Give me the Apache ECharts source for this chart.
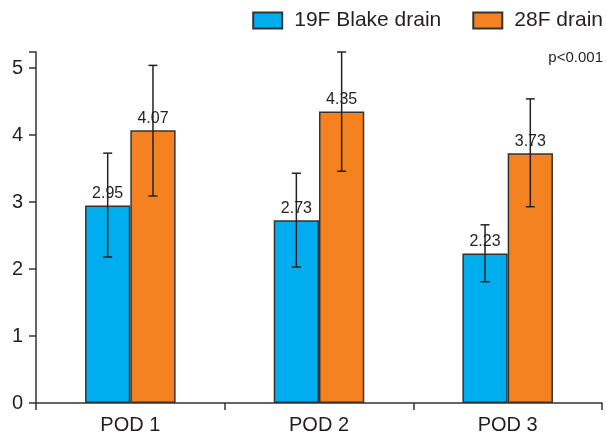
<!DOCTYPE html>
<html>
<head>
<meta charset="utf-8">
<script src="https://cdn.jsdelivr.net/npm/echarts@6/dist/echarts.min.js"></script>
<style>
html,body{margin:0;padding:0;background:#fff;}
#chart{width:606px;height:438px;}
</style>
</head>
<body>
<div id="chart"></div>
<script>
const categories = ['POD 1', 'POD 2', 'POD 3'];
const seriesNames = ['19F Blake drain', '28F drain'];
const blakeValues = [2.95, 2.73, 2.23];
const drainValues = [4.07, 4.35, 3.73];
const blakeLow = [2.18, 2.03, 1.81];
const blakeHigh = [3.73, 3.43, 2.66];
const drainLow = [3.09, 3.46, 2.93];
const drainHigh = [5.04, 5.24, 4.54];
const yTicks = [0, 1, 2, 3, 4, 5];
const pText = 'p<0.001';

const FONT = '"Liberation Sans", Arial, sans-serif';
const TXT = '#231f20';
const BAR_FRAC = 0.24;

function errorSeries(low, high, sign) {
  return {
    type: 'custom',
    z: 10,
    silent: true,
    data: low.map((l, i) => [i, l, high[i]]),
    renderItem: function (params, api) {
      const idx = api.value(0);
      const bandW = api.size([1, 0])[0];
      const off = sign * bandW * BAR_FRAC / 2;
      const lo = api.coord([idx, api.value(1)]);
      const hi = api.coord([idx, api.value(2)]);
      const x = lo[0] + off;
      const cap = 4.5;
      const style = { stroke: '#222', lineWidth: 1.5, fill: null };
      return {
        type: 'group',
        children: [
          { type: 'line', shape: { x1: x, y1: lo[1], x2: x, y2: hi[1] }, style: style },
          { type: 'line', shape: { x1: x - cap, y1: lo[1], x2: x + cap, y2: lo[1] }, style: style },
          { type: 'line', shape: { x1: x - cap, y1: hi[1], x2: x + cap, y2: hi[1] }, style: style }
        ]
      };
    }
  };
}

const chart = echarts.init(document.getElementById('chart'), null, { renderer: 'canvas' });
chart.setOption({
  animation: false,
  backgroundColor: '#fff',
  textStyle: { fontFamily: FONT },
  grid: { left: 36, right: 4, top: 52, bottom: 35, containLabel: false },
  legend: {
    data: seriesNames,
    right: 3,
    top: 10,
    padding: 0,
    itemWidth: 29,
    itemHeight: 16,
    itemGap: 31,
    icon: 'rect',
    textStyle: { fontSize: 21, color: TXT, fontFamily: FONT, padding: [0, 0, 0, 7] }
  },
  graphic: [{
    type: 'text',
    right: 3,
    top: 50,
    style: { text: pText, fontSize: 15, fill: TXT, fontFamily: FONT }
  }],
  xAxis: {
    type: 'category',
    data: categories,
    axisLine: { lineStyle: { color: '#333', width: 1.5 } },
    axisTick: { show: true, length: 7, lineStyle: { color: '#333', width: 1.5 } },
    axisLabel: { fontSize: 20, color: TXT, margin: 12, fontFamily: FONT },
    splitLine: { show: false }
  },
  yAxis: {
    type: 'value',
    min: 0,
    max: 5.24,
    interval: 1,
    axisLine: { show: true, lineStyle: { color: '#333', width: 1.5 } },
    axisTick: { show: true, length: 7, lineStyle: { color: '#333', width: 1.5 } },
    axisLabel: {
      fontSize: 20, color: TXT, margin: 13, fontFamily: FONT,
      formatter: function (v) { return yTicks.indexOf(v) >= 0 ? String(v) : ''; }
    },
    splitLine: { show: false }
  },
  series: [
    {
      name: seriesNames[0],
      type: 'bar',
      data: blakeValues,
      barWidth: (BAR_FRAC * 100) + '%',
      barGap: '0%',
      itemStyle: { color: '#00AEEF', borderColor: '#333', borderWidth: 1.5 },
      label: { show: true, position: 'top', distance: 4, fontSize: 16, color: TXT, fontFamily: FONT,
               formatter: function (p) { return p.value.toFixed(2); } }
    },
    {
      name: seriesNames[1],
      type: 'bar',
      data: drainValues,
      barWidth: (BAR_FRAC * 100) + '%',
      barGap: '0%',
      itemStyle: { color: '#F58220', borderColor: '#333', borderWidth: 1.5 },
      label: { show: true, position: 'top', distance: 4, fontSize: 16, color: TXT, fontFamily: FONT,
               formatter: function (p) { return p.value.toFixed(2); } }
    },
    errorSeries(blakeLow, blakeHigh, -1),
    errorSeries(drainLow, drainHigh, 1)
  ]
});
</script>
</body>
</html>
